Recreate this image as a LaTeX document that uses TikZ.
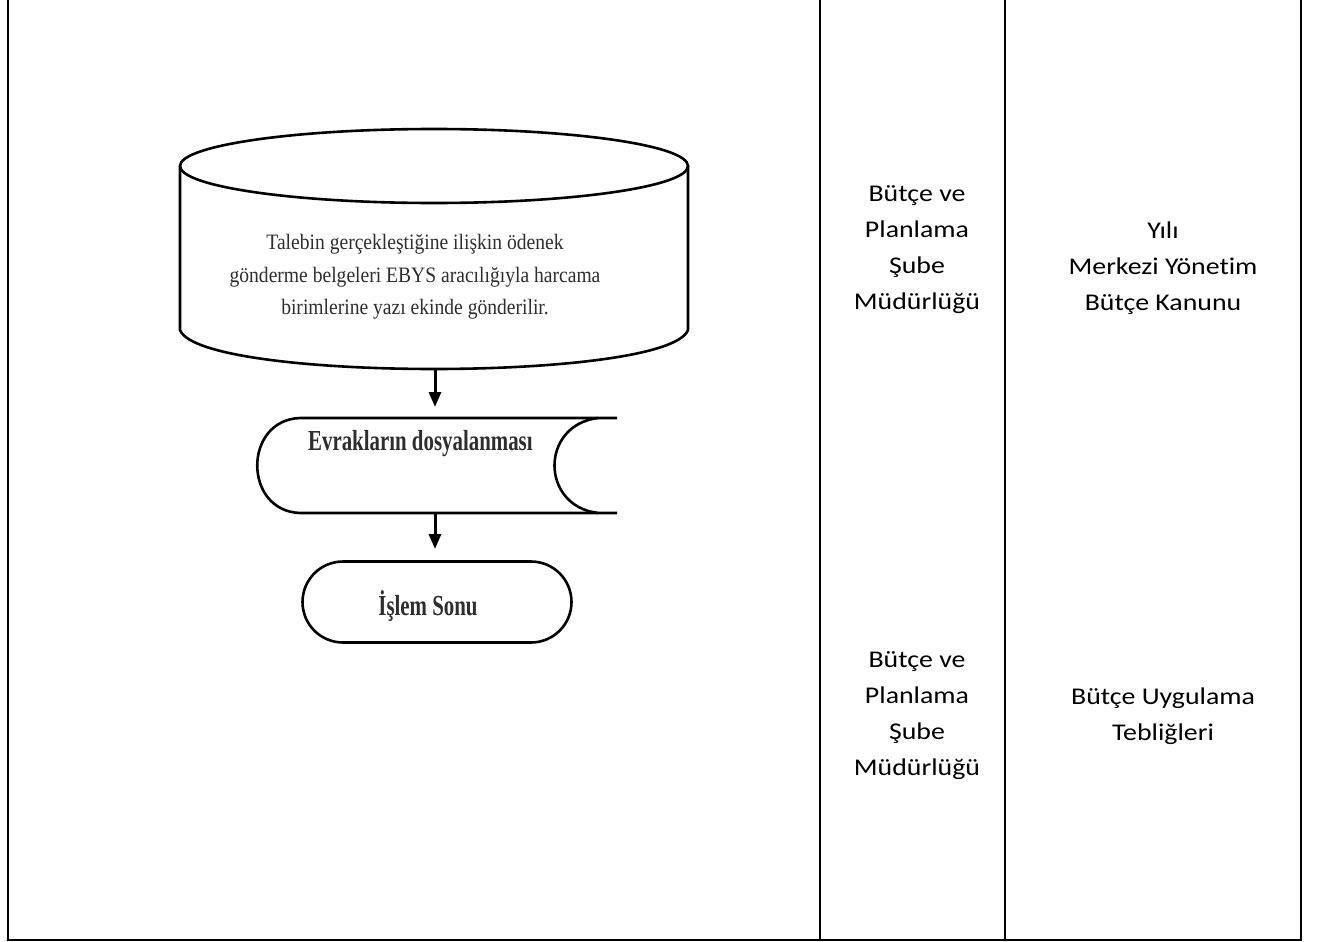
\documentclass[tikz,border=0pt]{standalone}
\usepackage{fontspec}
\setmainfont{Liberation Serif}
\newfontfamily\calib[Ligatures=NoCommon]{Carlito}
\usetikzlibrary{arrows.meta,shapes.misc}
\definecolor{ink}{HTML}{2E2E2E}
\tikzset{
  frame/.style={line width=2.2pt,black},
  shapeline/.style={line width=2.6pt,black},
  conn/.style={line width=3pt,-{Triangle[length=15pt,width=12pt]}},
  serif/.style={font=\fontsize{22}{32.5}\selectfont,text=ink,align=center,xscale=0.89,transform shape},
  boldserif/.style={font=\bfseries\fontsize{29}{32}\selectfont,text=ink,xscale=0.72,transform shape},
  sidetext/.style={font=\calib\fontsize{24}{36}\selectfont,align=center,text=black,xscale=1.16,transform shape},
}
\begin{document}
\begin{tikzpicture}[x=1pt,y=-1pt]
\useasboundingbox (0,0) rectangle (1336,942);
% table frame
\draw[frame] (8,0) -- (8,940) -- (1301,940) -- (1301,0);
\draw[frame] (820,0) -- (820,940);
\draw[frame] (1005,0) -- (1005,940);
% cylinder
\draw[shapeline] (434,166) ellipse [x radius=254, y radius=37];
\draw[shapeline] (180,166) -- (180,330) .. controls (200,382) and (668,382) .. (688,330) -- (688,166);
\coordinate (cylbot) at (435,369);
\node[serif] (cyltext) at (415,277) {Talebin gerçekleştiğine ilişkin ödenek\\gönderme belgeleri EBYS aracılığıyla harcama\\birimlerine yazı ekinde gönderilir.};
% storage
\node[minimum width=362pt,minimum height=95pt,inner sep=0pt] (store) at (436,465.5) {};
\draw[shapeline] (617,418) -- (300,418) .. controls (243,420) and (243,511) .. (300,513) -- (617,513);
\draw[shapeline] (598,418) .. controls (540,425) and (540,506) .. (598,513);
\node[boldserif,anchor=base west,inner sep=0pt] (storetext) at (308,450) {Evrakların dosyalanması};
% terminal
\node[draw,shapeline,rounded rectangle,minimum width=269pt,minimum height=81pt,inner sep=0pt] (end) at (437,602) {};
\node[boldserif,anchor=base,inner sep=0pt] (endtext) at (428,615) {İşlem Sonu};
% connectors
\coordinate (sb) at (435,513);
\draw[conn] (cylbot) -- (435,407);
\draw[conn] (sb) -- (435,549);
% side texts
\node[sidetext] (u1) at (917,250) {Bütçe ve\\Planlama\\Şube\\Müdürlüğü};
\node[sidetext] (k1) at (1163,268) {Yılı\\Merkezi Yönetim\\Bütçe Kanunu};
\node[sidetext] (u2) at (917,716) {Bütçe ve\\Planlama\\Şube\\Müdürlüğü};
\node[sidetext] (k2) at (1163,716.5) {Bütçe Uygulama\\Tebliğleri};
\end{tikzpicture}
\end{document}
